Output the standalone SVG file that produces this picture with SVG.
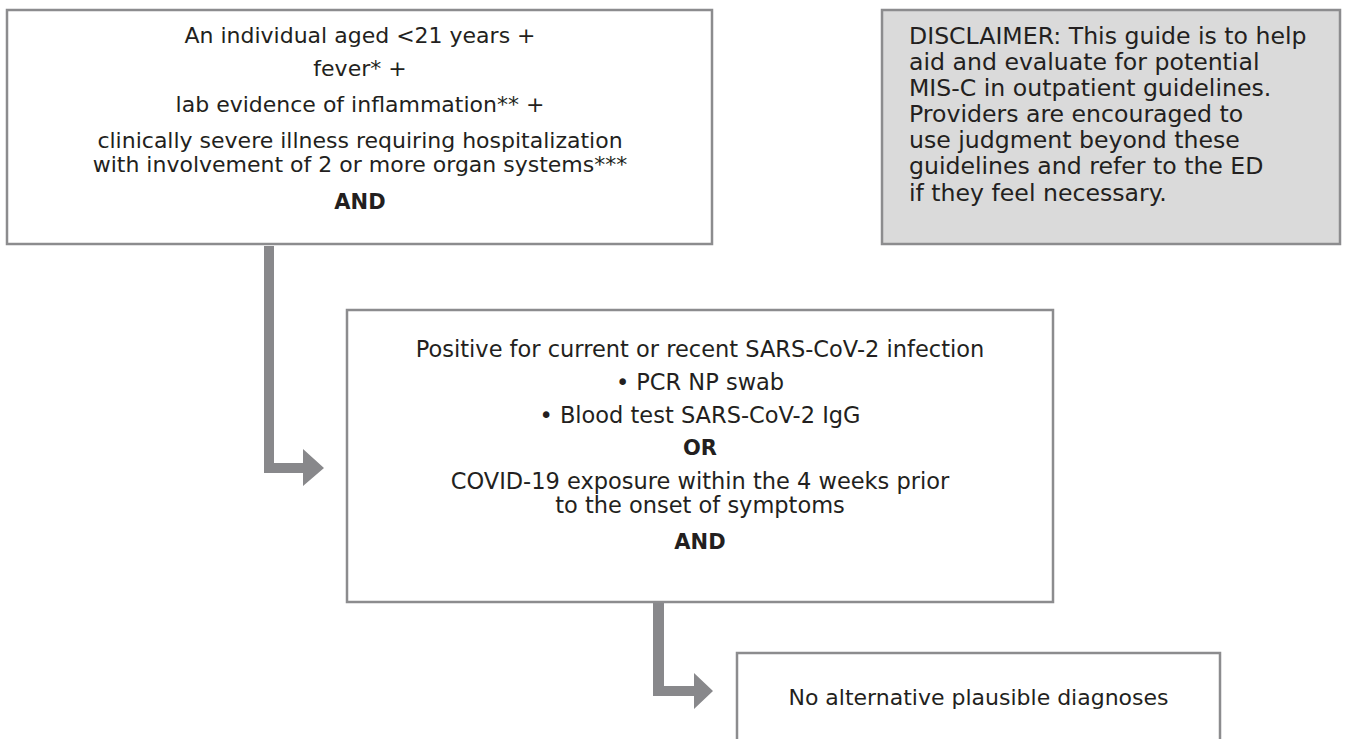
<svg xmlns="http://www.w3.org/2000/svg" width="1348" height="739" viewBox="0 0 1348 739">
<style>
.box{fill:#ffffff;stroke:#8c8c8e;stroke-width:2.5}
.gbox{fill:#dadada;stroke:#8c8c8e;stroke-width:2.5}
.t{font-family:"DejaVu Sans","Noto Sans",sans-serif;fill:#231f20;text-anchor:middle}
.n{font-size:22px}
.w{font-size:22.5px}
.d{font-family:"DejaVu Sans","Noto Sans",sans-serif;font-size:23.6px;fill:#231f20}
.b{font-size:21px;font-weight:bold}
.arr{fill:#88888b}
</style>
<rect width="1348" height="739" fill="#ffffff"/>
<g id="connectors">
<path class="arr" d="M264,246 H274 V463 H303 V449 L324,468 L303,486 V473 H264 Z"/>
<path class="arr" d="M653,603 H664 V686 H694 V673 L713,691 L694,709 V696 H653 Z"/>
</g>
<g id="criteria">
<rect class="box" x="7" y="10" width="705" height="234"/>
<text class="t n" x="360" y="42.5">An individual aged &lt;21 years +</text>
<text class="t n" x="360" y="75.5">fever* +</text>
<text class="t n" x="360" y="111.5">lab evidence of inflammation** +</text>
<text class="t n" x="360" y="147.5">clinically severe illness requiring hospitalization</text>
<text class="t n" x="360" y="171.5">with involvement of 2 or more organ systems***</text>
<text class="t b" x="360" y="209">AND</text>
</g>
<g id="disclaimer">
<rect class="gbox" x="882" y="10" width="458" height="234"/>
<text class="d" x="909" y="44">DISCLAIMER: This guide is to help<tspan x="909" dy="26">aid and evaluate for potential</tspan><tspan x="909" dy="26">MIS-C in outpatient guidelines.</tspan><tspan x="909" dy="26.3">Providers are encouraged to</tspan><tspan x="909" dy="26">use judgment beyond these</tspan><tspan x="909" dy="26">guidelines and refer to the ED</tspan><tspan x="909" dy="26.2">if they feel necessary.</tspan></text>
</g>
<g id="infection">
<rect class="box" x="347" y="310" width="706" height="292"/>
<text class="t w" x="700" y="356.5">Positive for current or recent SARS-CoV-2 infection</text>
<text class="t w" x="700" y="389.5">• PCR NP swab</text>
<text class="t w" x="700" y="422.5">• Blood test SARS-CoV-2 IgG</text>
<text class="t b" x="700" y="455">OR</text>
<text class="t w" x="700" y="488.5">COVID-19 exposure within the 4 weeks prior</text>
<text class="t w" x="700" y="512.5">to the onset of symptoms</text>
<text class="t b" x="700" y="549">AND</text>
</g>
<g id="diagnoses">
<rect class="box" x="737" y="653" width="483" height="100"/>
<text class="t n" x="978.5" y="705">No alternative plausible diagnoses</text>
</g>
</svg>
